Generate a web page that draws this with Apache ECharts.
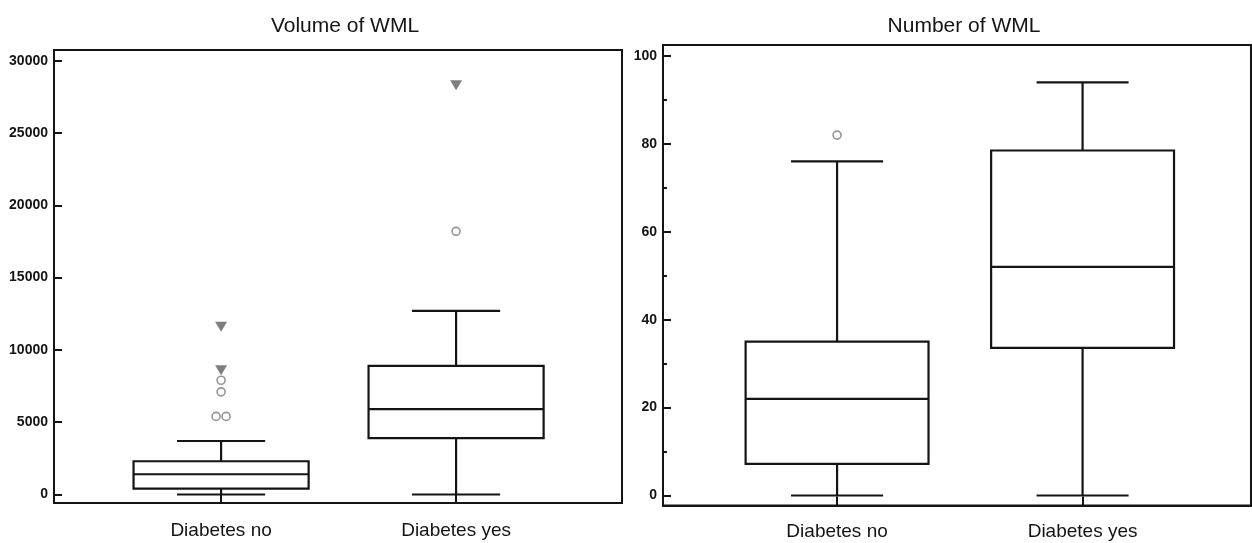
<!DOCTYPE html>
<html><head><meta charset="utf-8">
<script src="https://cdn.jsdelivr.net/npm/echarts@6/dist/echarts.min.js"></script>
<style>html,body{margin:0;padding:0;background:#fff}#c{width:1252px;height:543px}</style>
</head><body><div id="c"></div>
<script>
// ---- data ----
const categories = ['Diabetes no', 'Diabetes yes'];
const titles = ['Volume of WML', 'Number of WML'];
// [min, Q1, median, Q3, max] per category
const volumeBox = [
  [0, 400, 1400, 2300, 3700],
  [0, 3900, 5900, 8900, 12700]
];
// outliers: [category index (1-based), value]
const volumeOutliers = [[1, 7900], [1, 7100], [1, 5400], [1, 5400], [2, 18200]];
const volumeExtremes = [[1, 11600], [1, 8600], [2, 28300]];
const numberBox = [
  [0, 7.2, 22, 35, 76],
  [0, 33.6, 52, 78.5, 94]
];
const numberOutliers = [[1, 82]];
const volumeTicks = [0, 5000, 10000, 15000, 20000, 25000, 30000];
const numberTicks = [0, 20, 40, 60, 80, 100];
const numberMinorTicks = [10, 30, 50, 70, 90];

// ---- styling ----
const FONT = "'Liberation Sans', Arial, Helvetica, sans-serif";
const INK = '#141414';
const BOX_W = 0.745, CAP_W = 0.375;
const jitter = [0, 0, -5, 5, 0];

function boxRender(params, api) {
  const x = api.value(0);
  const c = v => api.coord([x, v]);
  const pMin = c(api.value(1)), pQ1 = c(api.value(2)), pMed = c(api.value(3)),
        pQ3 = c(api.value(4)), pMax = c(api.value(5));
  const half = api.size([BOX_W, 0])[0] / 2;
  const capHalf = api.size([CAP_W, 0])[0] / 2;
  const cx = pMin[0];
  const style = { stroke: INK, lineWidth: 2.2, fill: null };
  return {
    type: 'group', children: [
      { type: 'line', shape: { x1: cx, y1: pMax[1], x2: cx, y2: pQ3[1] }, style },
      { type: 'line', shape: { x1: cx, y1: pQ1[1], x2: cx, y2: pMin[1] }, style },
      { type: 'line', shape: { x1: cx - capHalf, y1: pMax[1], x2: cx + capHalf, y2: pMax[1] }, style },
      { type: 'line', shape: { x1: cx - capHalf, y1: pMin[1], x2: cx + capHalf, y2: pMin[1] }, style },
      { type: 'rect', shape: { x: cx - half, y: pQ3[1], width: 2 * half, height: pQ1[1] - pQ3[1] }, style },
      { type: 'line', shape: { x1: cx - half, y1: pMed[1], x2: cx + half, y2: pMed[1] }, style }
    ]
  };
}

const boxRows = arr => arr.map((r, i) => [i + 1].concat(r));

function xAxisFor(grid, min, max, margin) {
  return {
    type: 'value', gridIndex: grid, min, max,
    axisLine: { show: true, onZero: false, lineStyle: { color: INK, width: 2 } },
    splitLine: { show: false },
    axisTick: { show: true, inside: true, length: 9, customValues: [1, 2], lineStyle: { color: INK, width: 2 } },
    axisLabel: { customValues: [1, 2], formatter: v => categories[Math.round(v) - 1], color: INK,
      fontFamily: FONT, fontSize: 19, margin }
  };
}
function yAxisFor(grid, min, max, ticks, len, labels) {
  return {
    type: 'value', gridIndex: grid, min, max, position: 'left',
    axisLine: { show: labels, onZero: false, lineStyle: { color: INK, width: 2 } },
    splitLine: { show: false },
    axisTick: { show: true, inside: true, length: len, customValues: ticks, lineStyle: { color: INK, width: 2 } },
    axisLabel: { show: labels, customValues: ticks, formatter: v => String(v), color: INK,
      fontFamily: FONT, fontSize: 14, fontWeight: 'bold', margin: 6 }
  };
}

const circleStyle = { color: '#fff', borderColor: '#7a7a7a', borderWidth: 1.6 };
const triStyle = { color: '#5e5e5e' };

const option = {
  animation: false,
  backgroundColor: '#fff',
  title: [
    { text: titles[0], left: 340, top: 11, textAlign: 'center',
      textStyle: { fontFamily: FONT, fontSize: 21, fontWeight: 'normal', color: INK } },
    { text: titles[1], left: 959, top: 11, textAlign: 'center',
      textStyle: { fontFamily: FONT, fontSize: 21, fontWeight: 'normal', color: INK } }
  ],
  grid: [
    { left: 54, top: 50, width: 568, height: 453, show: true, borderColor: INK, borderWidth: 2, backgroundColor: 'transparent' },
    { left: 663, top: 45, width: 588, height: 460.5, show: true, borderColor: INK, borderWidth: 2, backgroundColor: 'transparent' }
  ],
  xAxis: [
    xAxisFor(0, 0.289, 2.706, 18),
    xAxisFor(1, 0.291, 2.686, 17)
  ],
  yAxis: [
    yAxisFor(0, -588, 30740, volumeTicks, 8, true),
    yAxisFor(1, -2.28, 102.5, numberTicks, 8, true),
    yAxisFor(1, -2.28, 102.5, numberMinorTicks, 4, false)
  ],
  series: [
    { type: 'custom', xAxisIndex: 0, yAxisIndex: 0, renderItem: boxRender,
      encode: { x: 0, y: [1, 2, 3, 4, 5] }, data: boxRows(volumeBox), silent: true },
    { type: 'scatter', xAxisIndex: 0, yAxisIndex: 0, symbol: 'circle', symbolSize: 8,
      itemStyle: circleStyle, z: 5,
      data: volumeOutliers.map((d, i) => ({ value: d, symbolOffset: [jitter[i], 0] })) },
    { type: 'scatter', xAxisIndex: 0, yAxisIndex: 0, symbol: 'triangle', symbolRotate: 180,
      symbolSize: [12, 10], itemStyle: triStyle, z: 5, data: volumeExtremes },
    { type: 'custom', xAxisIndex: 1, yAxisIndex: 1, renderItem: boxRender,
      encode: { x: 0, y: [1, 2, 3, 4, 5] }, data: boxRows(numberBox), silent: true },
    { type: 'scatter', xAxisIndex: 1, yAxisIndex: 1, symbol: 'circle', symbolSize: 8,
      itemStyle: circleStyle, z: 5, data: numberOutliers }
  ]
};

const chart = echarts.init(document.getElementById('c'), null, { renderer: 'canvas' });
chart.setOption(option);
</script>
</body></html>
